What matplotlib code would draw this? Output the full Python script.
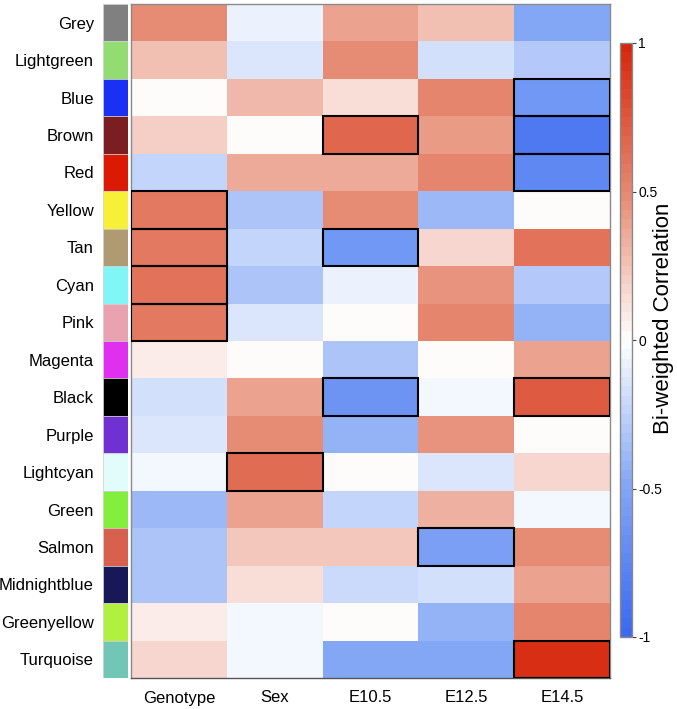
import numpy as np
import matplotlib
matplotlib.use("Agg")
import matplotlib.pyplot as plt
from matplotlib.colors import LinearSegmentedColormap, Normalize
from matplotlib.patches import Rectangle
from matplotlib.cm import ScalarMappable

plt.rcParams['font.family'] = ['Liberation Sans', 'DejaVu Sans']

modules = ["Grey", "Lightgreen", "Blue", "Brown", "Red", "Yellow", "Tan", "Cyan",
           "Pink", "Magenta", "Black", "Purple", "Lightcyan", "Green", "Salmon",
           "Midnightblue", "Greenyellow", "Turquoise"]
module_colors = ["#808080", "#92dc72", "#1a30f2", "#7a1e22", "#dc1a04", "#f8f038",
                 "#b09a72", "#80f6f6", "#e8a2b0", "#de30ee", "#000000", "#7030d2",
                 "#e2fcfc", "#84ee3e", "#d8604e", "#181858", "#b2f040", "#72c6b6"]
traits = ["Genotype", "Sex", "E10.5", "E12.5", "E14.5"]

genotype = [0.48, 0.25, 0.00, 0.20, -0.22, 0.58, 0.58, 0.60, 0.58, 0.09, -0.18,
            -0.13, -0.06, -0.40, -0.33, -0.33, 0.07, 0.16]
sex = [-0.07, -0.15, 0.30, 0.00, 0.36, -0.32, -0.25, -0.32, -0.15, 0.00, 0.40,
       0.48, 0.64, 0.40, 0.22, 0.15, -0.06, -0.06]
e105 = [0.40, 0.48, 0.15, 0.68, 0.36, 0.48, -0.62, -0.07, 0.00, -0.32, -0.65,
        -0.42, 0.00, -0.22, 0.22, -0.20, 0.00, -0.50]
e125 = [0.25, -0.16, 0.52, 0.42, 0.52, -0.38, 0.18, 0.46, 0.50, 0.00, -0.06,
        0.46, -0.13, 0.33, -0.54, -0.16, -0.42, -0.50]
e145 = [-0.48, -0.30, -0.62, -0.85, -0.75, 0.00, 0.60, -0.30, -0.42, 0.38, 0.74,
        0.00, 0.18, -0.06, 0.48, 0.38, 0.50, 0.95]

# significant cells (row, trait) outlined in black
sig_rows = ["Blue", "Brown", "Brown", "Red", "Yellow", "Tan", "Tan", "Cyan", "Pink",
            "Black", "Black", "Lightcyan", "Salmon", "Turquoise"]
sig_cols = ["E14.5", "E10.5", "E14.5", "E14.5", "Genotype", "Genotype", "E10.5",
            "Genotype", "Genotype", "E10.5", "E14.5", "Sex", "E12.5", "E14.5"]

cbar_ticks = [1, 0.5, 0, -0.5, -1]
cbar_ticklabels = ["1", "0.5", "0", "-0.5", "-1"]

data = np.array([genotype, sex, e105, e125, e145]).T

cmap = LinearSegmentedColormap.from_list(
    "bw", [(0.0, "#3c6af0"), (0.25, "#82a6f5"), (0.5, "#ffffff"),
           (0.75, "#e68a72"), (1.0, "#d6280e")], N=64)
norm = Normalize(vmin=-1, vmax=1)

W, H = 677, 709
fig = plt.figure(figsize=(W / 100, H / 100), dpi=100)

def fax(x0, y0, x1, y1):
    return fig.add_axes([x0 / W, 1 - y1 / H, (x1 - x0) / W, (y1 - y0) / H])

ax = fax(131, 4, 610, 678)
ax.pcolormesh(np.arange(len(traits) + 1), np.arange(len(modules) + 1), data,
              cmap=cmap, norm=norm)
ax.set_xlim(0, len(traits))
ax.set_ylim(len(modules), 0)
for r, c in zip(sig_rows, sig_cols):
    ax.add_patch(Rectangle((traits.index(c), modules.index(r)), 1, 1, fill=False,
                           edgecolor="black", linewidth=1.5, zorder=3))
ax.set_xticks(np.arange(len(traits)) + 0.5)
ax.set_xticklabels(traits, fontsize=12)
ax.tick_params(axis="x", length=0, pad=9)
ax.set_yticks([])
for s in ax.spines.values():
    s.set_color("#8a8a8a")
    s.set_linewidth(1.0)
ax.spines["bottom"].set_color("#555555")

sax = fax(103, 4, 128, 678)
for i, c in enumerate(module_colors):
    sax.add_patch(Rectangle((0, i), 1, 1, facecolor=c, edgecolor="#cfcfcf",
                            linewidth=0.5))
sax.set_xlim(0, 1)
sax.set_ylim(len(modules), 0)
sax.set_xticks([])
sax.set_yticks(np.arange(len(modules)) + 0.5)
sax.set_yticklabels(modules, fontsize=12)
sax.tick_params(axis="y", length=0, pad=6.5)
for s in sax.spines.values():
    s.set_visible(False)

cax = fax(620, 43, 632, 637)
sm = ScalarMappable(norm=norm, cmap=cmap)
cb = fig.colorbar(sm, cax=cax, ticks=cbar_ticks)
cb.ax.set_yticklabels(cbar_ticklabels, fontsize=10)
cb.ax.tick_params(length=3, width=0.8, color="#444444", pad=1.5)
cb.outline.set_edgecolor("#8a8a8a")
cb.outline.set_linewidth(1.0)
fig.text(663 / W, 1 - 318 / H, "Bi-weighted Correlation", rotation=90,
         ha="center", va="center", fontsize=16)

fig.savefig("out.png", dpi=100)
